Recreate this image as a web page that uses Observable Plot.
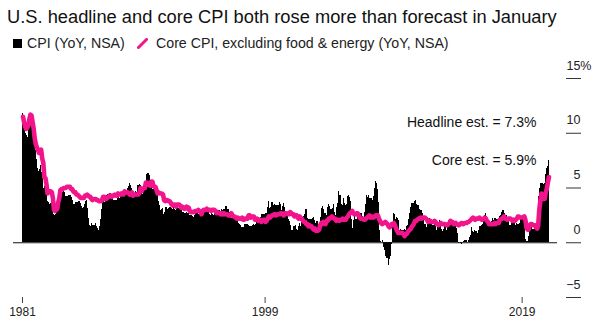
<!DOCTYPE html>
<html>
<head>
<meta charset="utf-8">
<script src="https://cdn.jsdelivr.net/npm/d3@7"></script>
<script src="https://cdn.jsdelivr.net/npm/@observablehq/plot@0.6"></script>
<style>
  body { margin: 0; background: #fff; font-family: "Liberation Sans", Arial, sans-serif; }
  #wrap { position: relative; width: 599px; height: 326px; overflow: hidden; background: #fff; }
  #title { position: absolute; left: 7px; top: 7px; font-size: 18.3px; line-height: 20px; color: #111; white-space: nowrap; }
  .lg { position: absolute; font-size: 14.2px; line-height: 16px; color: #222; white-space: nowrap; top: 35px; }
  .sw { position: absolute; }
  #chart { position: absolute; left: 0; top: 56px; }
</style>
</head>
<body>
<div id="wrap">
  <div id="title"></div>
  <div class="sw" style="left:13px;top:39px;width:9px;height:9px;background:#000"></div>
  <div class="lg" id="lg1" style="left:27px"></div>
  <svg class="sw" style="left:137px;top:38px" width="11" height="11"><line x1="1.5" y1="9.5" x2="9.5" y2="1.5" stroke="#f2148b" stroke-width="3" stroke-linecap="round"/></svg>
  <div class="lg" id="lg2" style="left:156px"></div>
  <div id="chart"></div>
</div>
<script>
const titleText = "U.S. headline and core CPI both rose more than forecast in January";
const seriesNames = ["CPI (YoY, NSA)", "Core CPI, excluding food & energy (YoY, NSA)"];
const annotations = ["Headline est. = 7.3%", "Core est. = 5.9%"];
const yTicks = [-5, 0, 5, 10, 15];
const xTickDates = ["1981-01-01", "1999-12-01", "2019-12-15"];
const xTickLabels = ["1981", "1999", "2019"];
const firstMonth = "1981-01-01";

// Headline CPI YoY %, monthly Jan 1981 .. Jan 2022
const cpi = [
  11.8,11.4,10.5,10.0,9.8,9.6,10.8,10.8,11.0,10.1,9.6,8.9,
  8.4,7.6,6.8,6.5,6.7,7.1,6.4,5.9,5.0,5.1,4.6,3.8,
  3.7,3.5,3.6,3.9,3.5,2.6,2.5,2.6,2.9,2.9,3.3,3.8,
  4.2,4.6,4.8,4.6,4.2,4.2,4.2,4.3,4.3,4.3,4.1,3.9,
  3.5,3.5,3.7,3.7,3.8,3.8,3.6,3.3,3.1,3.2,3.5,3.8,
  3.9,3.1,2.2,1.6,1.5,1.8,1.6,1.6,1.8,1.5,1.3,1.1,
  1.5,2.1,3.0,3.8,3.9,3.7,3.9,4.3,4.4,4.5,4.5,4.4,
  4.0,3.9,3.9,3.9,3.9,4.0,4.1,4.0,4.2,4.2,4.2,4.4,
  4.7,4.8,5.0,5.1,5.4,5.2,5.0,4.7,4.3,4.5,4.7,4.6,
  5.2,5.3,5.2,4.7,4.4,4.7,4.8,5.6,6.2,6.3,6.3,6.1,
  5.7,5.3,4.9,4.9,5.0,4.7,4.4,3.8,3.4,2.9,3.0,3.1,
  2.6,2.8,3.2,3.2,3.0,3.1,3.2,3.1,3.0,3.2,3.0,2.9,
  3.3,3.2,3.1,3.2,3.2,3.0,2.8,2.8,2.7,2.8,2.7,2.7,
  2.5,2.5,2.5,2.4,2.3,2.5,2.8,2.9,3.0,2.6,2.7,2.7,
  2.8,2.9,2.9,3.1,3.2,3.0,2.8,2.6,2.5,2.8,2.6,2.5,
  2.7,2.7,2.8,2.9,2.9,2.8,3.0,2.9,3.0,3.0,3.3,3.3,
  3.0,3.0,2.8,2.5,2.2,2.3,2.2,2.2,2.2,2.1,1.8,1.7,
  1.6,1.4,1.4,1.4,1.7,1.7,1.7,1.6,1.5,1.5,1.5,1.6,
  1.7,1.6,1.7,2.3,2.1,2.0,2.1,2.3,2.6,2.6,2.6,2.7,
  2.7,3.2,3.8,3.1,3.2,3.7,3.7,3.4,3.5,3.4,3.4,3.4,
  3.7,3.5,2.9,3.3,3.6,3.2,2.7,2.7,2.6,2.1,1.9,1.6,
  1.1,1.1,1.5,1.6,1.2,1.1,1.5,1.8,1.5,2.0,2.2,2.4,
  2.6,3.0,3.0,2.2,2.1,2.1,2.1,2.2,2.3,2.0,1.8,1.9,
  1.9,1.7,1.7,2.3,3.1,3.3,3.0,2.7,2.5,3.2,3.5,3.3,
  3.0,3.0,3.1,3.5,2.8,2.5,3.2,3.6,4.7,4.3,3.5,3.4,
  4.0,3.6,3.4,3.5,4.2,4.3,4.1,3.8,2.1,1.3,2.0,2.5,
  2.1,2.4,2.8,2.6,2.7,2.7,2.4,2.0,2.8,3.5,4.3,4.1,
  4.3,4.0,4.0,3.9,4.2,5.0,5.6,5.4,4.9,3.7,1.1,0.1,
  0.0,0.2,-0.4,-0.7,-1.3,-1.4,-2.1,-1.5,-1.3,-0.2,1.8,2.7,
  2.6,2.1,2.3,2.2,2.0,1.1,1.2,1.1,1.1,1.2,1.1,1.5,
  1.6,2.1,2.7,3.2,3.6,3.6,3.6,3.8,3.9,3.5,3.4,3.0,
  2.9,2.9,2.7,2.3,1.7,1.7,1.4,1.7,2.0,2.2,1.8,1.7,
  1.6,2.0,1.5,1.1,1.4,1.8,2.0,1.5,1.2,1.0,1.2,1.5,
  1.6,1.1,1.5,2.0,2.1,2.1,2.0,1.7,1.7,1.7,1.3,0.8,
  -0.1,0.0,-0.1,-0.2,0.0,0.1,0.2,0.2,0.0,0.2,0.5,0.7,
  1.4,1.0,0.9,1.1,1.0,1.0,0.8,1.1,1.5,1.6,1.7,2.1,
  2.5,2.7,2.4,2.2,1.9,1.6,1.7,1.9,2.2,2.0,2.2,2.1,
  2.1,2.2,2.4,2.5,2.8,2.9,2.9,2.7,2.3,2.5,2.2,1.9,
  1.6,1.5,1.9,2.0,1.8,1.6,1.8,1.7,1.7,1.8,2.1,2.3,
  2.5,2.3,1.5,0.3,0.1,0.6,1.0,1.3,1.4,1.2,1.2,1.4,
  1.4,1.7,2.6,4.2,5.0,5.4,5.4,5.3,5.4,6.2,6.8,7.0,
  7.5
];

// Core CPI (ex food & energy) YoY %, monthly Jan 1981 .. Jan 2022
const core = [
  11.5,11.0,10.6,10.4,10.5,10.7,11.3,11.7,11.6,11.0,10.4,9.5,
  9.0,8.7,8.5,8.2,8.2,8.5,7.7,7.3,6.0,5.9,5.3,4.5,
  4.7,4.7,4.7,4.6,4.1,3.0,2.9,3.0,3.1,3.7,4.1,4.8,
  4.9,4.9,5.0,5.0,5.0,5.1,5.1,5.1,5.1,4.9,4.9,4.7,
  4.6,4.6,4.4,4.4,4.3,4.2,4.1,4.1,4.1,4.1,4.3,4.3,
  4.4,4.3,4.2,4.2,4.0,3.9,4.0,4.0,4.0,3.9,3.9,3.8,
  3.8,3.8,3.9,4.2,4.2,4.0,4.0,4.1,4.2,4.3,4.3,4.2,
  4.3,4.3,4.4,4.3,4.3,4.5,4.4,4.4,4.5,4.4,4.4,4.7,
  4.6,4.6,4.6,4.5,4.4,4.5,4.6,4.3,4.4,4.4,4.4,4.4,
  4.4,4.6,5.0,4.7,4.9,5.0,5.0,5.5,5.5,5.3,5.4,5.2,
  5.6,5.6,5.2,5.1,5.1,4.8,4.5,4.6,4.5,4.5,4.5,4.4,
  3.9,3.8,3.9,3.9,3.8,3.8,3.7,3.5,3.4,3.5,3.5,3.3,
  3.5,3.5,3.5,3.4,3.2,3.3,3.2,3.1,3.2,3.3,3.1,3.2,
  2.9,2.8,2.8,2.8,2.8,2.9,2.9,2.9,3.0,2.9,2.8,2.6,
  2.9,3.0,3.0,3.0,3.1,3.0,3.0,3.0,2.9,3.0,3.0,3.0,
  2.9,2.7,2.8,2.7,2.7,2.6,2.7,2.6,2.7,2.6,2.6,2.6,
  2.5,2.5,2.5,2.7,2.5,2.4,2.4,2.3,2.2,2.3,2.2,2.2,
  2.2,2.3,2.1,2.1,2.2,2.2,2.2,2.5,2.5,2.3,2.4,2.4,
  2.4,2.1,2.1,2.2,2.0,2.1,2.1,1.9,2.0,2.1,2.1,1.9,
  2.0,2.2,2.4,2.3,2.4,2.5,2.5,2.6,2.6,2.5,2.6,2.6,
  2.6,2.7,2.7,2.6,2.5,2.7,2.7,2.7,2.6,2.6,2.8,2.7,
  2.6,2.6,2.4,2.5,2.5,2.3,2.2,2.4,2.2,2.2,2.0,1.9,
  1.9,1.7,1.7,1.5,1.6,1.5,1.5,1.3,1.2,1.3,1.1,1.1,
  1.1,1.2,1.6,1.8,1.7,1.9,1.8,1.7,2.0,2.0,2.2,2.2,
  2.3,2.4,2.3,2.2,2.2,2.0,2.1,2.1,2.0,2.1,2.1,2.2,
  2.1,2.1,2.1,2.3,2.4,2.6,2.7,2.8,2.9,2.7,2.6,2.6,
  2.7,2.7,2.5,2.3,2.2,2.2,2.2,2.1,2.1,2.2,2.3,2.4,
  2.5,2.3,2.4,2.3,2.3,2.4,2.5,2.5,2.5,2.2,2.0,1.8,
  1.7,1.8,1.8,1.9,1.8,1.7,1.5,1.4,1.5,1.7,1.7,1.8,
  1.6,1.3,1.1,0.9,0.9,0.9,0.9,0.9,0.8,0.6,0.8,0.8,
  1.0,1.1,1.2,1.3,1.5,1.6,1.8,2.0,2.0,2.1,2.2,2.2,
  2.3,2.2,2.3,2.3,2.3,2.2,2.1,1.9,2.0,2.0,1.9,1.9,
  1.9,2.0,1.9,1.7,1.7,1.6,1.7,1.8,1.7,1.7,1.7,1.7,
  1.6,1.6,1.7,1.8,2.0,1.9,1.9,1.7,1.7,1.8,1.7,1.6,
  1.6,1.7,1.8,1.8,1.7,1.8,1.8,1.8,1.9,1.9,2.0,2.1,
  2.2,2.3,2.2,2.1,2.2,2.2,2.2,2.3,2.2,2.1,2.1,2.2,
  2.3,2.2,2.0,1.9,1.7,1.7,1.7,1.7,1.7,1.8,1.7,1.8,
  1.8,1.8,2.1,2.1,2.2,2.3,2.4,2.2,2.2,2.1,2.2,2.2,
  2.2,2.1,2.0,2.1,2.0,2.1,2.2,2.4,2.4,2.3,2.3,2.3,
  2.3,2.4,2.1,1.4,1.2,1.2,1.6,1.7,1.7,1.6,1.6,1.6,
  1.4,1.3,1.6,3.0,3.8,4.5,4.3,4.0,4.0,4.6,4.9,5.5,
  6.0
];

document.getElementById("title").textContent = titleText;
document.getElementById("lg1").textContent = seriesNames[0];
document.getElementById("lg2").textContent = seriesNames[1];

const start = new Date(firstMonth + "T00:00:00Z");
const rows = cpi.map((v, i) => {
  const m = d3.utcMonth.offset(start, i);
  return { x1: m, x2: d3.utcMonth.offset(start, i + 1), mid: d3.utcDay.offset(m, 15), cpi: v, core: core[i] };
});
const tickDates = xTickDates.map(s => new Date(s + "T00:00:00Z"));
const fmtX = d => xTickLabels[tickDates.findIndex(t => +t === +d)];
const pink = "#f2148b";

const chart = Plot.plot({
  width: 599,
  height: 270,
  marginTop: 22,
  marginBottom: 29,
  marginLeft: 22,
  marginRight: 34,
  style: { fontFamily: "Liberation Sans, Arial, sans-serif", fontSize: "13px", color: "#222", background: "#fff" },
  x: { type: "utc", domain: [rows[0].x1, rows[rows.length - 1].x2], range: [22, 549] },
  y: { domain: [-5, 15] },
  marks: [
    Plot.rectY(rows, { x1: "x1", x2: "x2", y: "cpi", fill: "#000", inset: 0, shapeRendering: "crispEdges" }),
    Plot.ruleY([0], { stroke: "#111", strokeWidth: 1, insetLeft: -9, insetRight: 8 }),
    Plot.line(rows, { x: "mid", y: "core", stroke: pink, strokeWidth: 4.6, strokeLinejoin: "round", strokeLinecap: "round" }),
    Plot.axisY({ anchor: "right", ticks: yTicks, tickSize: 15, fill: "none", stroke: "#333", label: null }),
    Plot.axisY({ anchor: "right", ticks: yTicks.filter(t => t !== 15), tickSize: 15, tickPadding: 0, stroke: "none", fill: "#222", textAnchor: "end", dy: -13, fontSize: 12.5, label: null }),
    Plot.axisY({ anchor: "right", ticks: yTicks.filter(t => t === 15), tickSize: 15, tickPadding: 0, stroke: "none", fill: "#222", textAnchor: "end", dy: -13, dx: 11, fontSize: 12.5, tickFormat: d => d + "%", label: null }),
    Plot.axisX({ ticks: tickDates, tickSize: 6, tickPadding: 4, tickFormat: fmtX, stroke: "#444", fill: "#222", fontSize: 12, label: null }),
    Plot.text([annotations[0]], { frameAnchor: "top-right", text: d => d, textAnchor: "end", lineAnchor: "bottom", dx: -29, dy: 48, fontSize: 14, fill: "#111" }),
    Plot.text([annotations[1]], { frameAnchor: "top-right", text: d => d, textAnchor: "end", lineAnchor: "bottom", dx: -29, dy: 86, fontSize: 14, fill: "#111" })
  ]
});
document.getElementById("chart").appendChild(chart);
</script>
</body>
</html>
